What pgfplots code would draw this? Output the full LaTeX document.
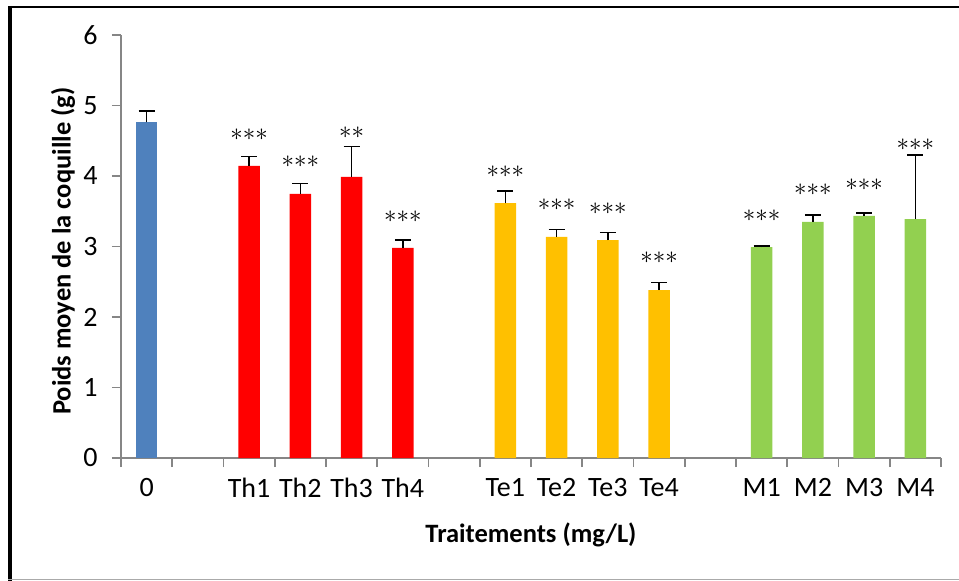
\documentclass[border=0pt]{standalone}
\usepackage{fontspec}
\setmainfont{Carlito}
\usepackage{pgfplots}
\pgfplotsset{compat=1.18}
\definecolor{cblue}{HTML}{4F81BD}
\definecolor{cred}{HTML}{FF0000}
\definecolor{cyel}{HTML}{FFC000}
\definecolor{cgreen}{HTML}{92D050}
\definecolor{axgray}{HTML}{868686}
\begin{document}
\begin{tikzpicture}[x=1pt,y=1pt]
\useasboundingbox (0,0) rectangle (959,-581);
\draw[line width=3.4pt] (10,-5.8) -- (10,-581);
\draw[line width=2.5pt] (8.3,-7) -- (959,-7);
\draw[axgray!70, line width=1.2pt] (8,-579.6) -- (959,-579.6);
\begin{axis}[
  at={(121pt,-458pt)}, anchor=south west,
  scale only axis, width=820pt, height=423pt,
  xmin=-0.5, xmax=15.5, ymin=0, ymax=6,
  axis x line*=bottom, axis y line*=left,
  axis line style={draw=axgray, line width=1.6pt},
  xtick={0,...,15},
  xticklabels={0,,Th1,Th2,Th3,Th4,,Te1,Te2,Te3,Te4,,M1,M2,M3,M4},
  minor xtick={-0.5,0.5,...,15.5},
  ytick={0,...,6},
  minor ytick={0,...,6},
  tick align=outside,
  major tick length=0pt, minor tick length=9pt,
  minor tick style={draw=axgray, line width=1.6pt},
  /pgf/number format/assume math mode=true,
  tick label style={font=\fontsize{28}{32}\selectfont, black},
  xticklabel style={yshift=-17pt},
  yticklabel style={xshift=-20pt},
  label style={font=\bfseries\fontsize{26.5}{30}\selectfont},
  xlabel={Traitements (mg/L)},
  ylabel={Poids moyen de la coquille (g)},
  xlabel style={at={(axis description cs:0.5,-0.182)}, anchor=center},
  ylabel style={at={(axis description cs:-0.0707,0.489)}, anchor=center},
  clip=false,
  error bars/error bar style={black, line width=1.6pt},
  error bars/error mark options={black, line width=1.6pt, mark size=8pt, rotate=90},
]
\addplot[ybar, bar width=21.3pt, bar shift=0pt, fill=cblue, draw=none,
  error bars/.cd, y dir=plus, y explicit]
  coordinates {(0,4.76) +- (0,0.165)};
\addplot[ybar, bar width=21.3pt, bar shift=0pt, fill=cred, draw=none,
  error bars/.cd, y dir=plus, y explicit]
  coordinates {(2,4.142) +- (0,0.137) (3,3.745) +- (0,0.146) (4,3.986) +- (0,0.435) (5,2.979) +- (0,0.113)};
\addplot[ybar, bar width=21.3pt, bar shift=0pt, fill=cyel, draw=none,
  error bars/.cd, y dir=plus, y explicit]
  coordinates {(7,3.617) +- (0,0.174) (8,3.135) +- (0,0.109) (9,3.092) +- (0,0.104) (10,2.383) +- (0,0.104)};
\addplot[ybar, bar width=21.3pt, bar shift=0pt, fill=cgreen, draw=none,
  error bars/.cd, y dir=plus, y explicit]
  coordinates {(12,2.993) +- (0,0.014) (13,3.348) +- (0,0.095) (14,3.433) +- (0,0.042) (15,3.390) +- (0,0.908)};
\begin{scope}[every node/.style={font=\fontsize{24}{28}\selectfont, inner sep=0pt}]
\node at (axis cs:2,4.58) {$\mathord{\ast}\mathord{\ast}\mathord{\ast}$};
\node at (axis cs:3,4.20) {$\mathord{\ast}\mathord{\ast}\mathord{\ast}$};
\node at (axis cs:4,4.61) {$\mathord{\ast}\mathord{\ast}$};
\node at (axis cs:5,3.42) {$\mathord{\ast}\mathord{\ast}\mathord{\ast}$};
\node at (axis cs:7,4.06) {$\mathord{\ast}\mathord{\ast}\mathord{\ast}$};
\node at (axis cs:8,3.59) {$\mathord{\ast}\mathord{\ast}\mathord{\ast}$};
\node at (axis cs:9,3.54) {$\mathord{\ast}\mathord{\ast}\mathord{\ast}$};
\node at (axis cs:10,2.84) {$\mathord{\ast}\mathord{\ast}\mathord{\ast}$};
\node at (axis cs:12,3.43) {$\mathord{\ast}\mathord{\ast}\mathord{\ast}$};
\node at (axis cs:13,3.80) {$\mathord{\ast}\mathord{\ast}\mathord{\ast}$};
\node at (axis cs:14,3.87) {$\mathord{\ast}\mathord{\ast}\mathord{\ast}$};
\node at (axis cs:15,4.44) {$\mathord{\ast}\mathord{\ast}\mathord{\ast}$};
\end{scope}
\end{axis}
\end{tikzpicture}
\end{document}
